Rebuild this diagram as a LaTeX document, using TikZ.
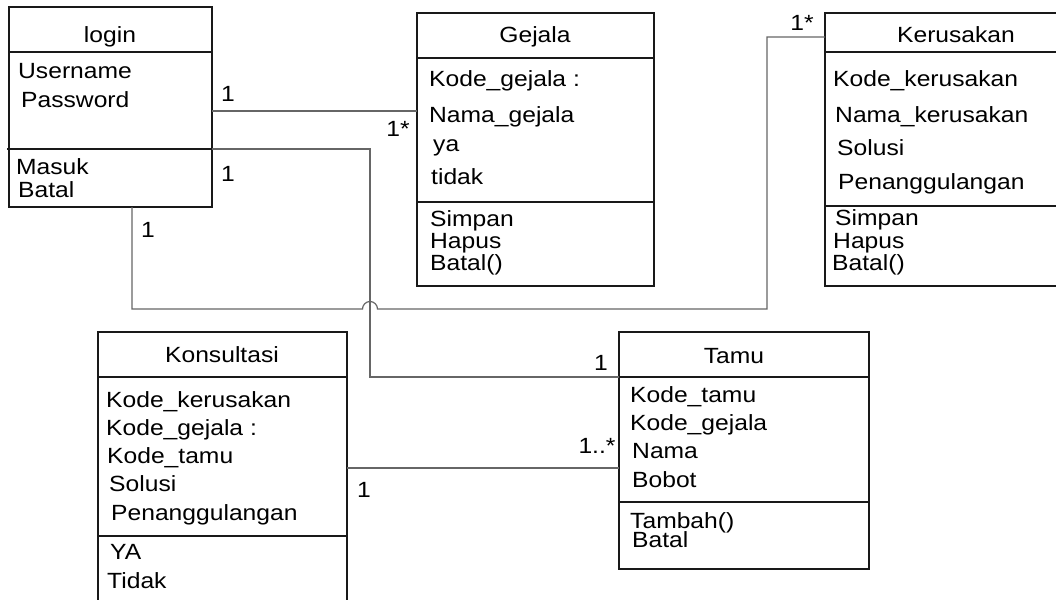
\documentclass[tikz,border=0pt]{standalone}
\usepackage{fontspec}
\setmainfont{Liberation Sans}[FakeStretch=1.12]

\begin{document}
\begin{tikzpicture}[x=1pt, y=-1pt,
    every node/.style={font=\fontsize{22}{24}\selectfont, inner sep=0pt},
    box/.style={line width=1.6pt, black!90},
    link/.style={line width=1.2pt, black!60},
    attr/.style={anchor=base west},
    title/.style={anchor=base},
    mult/.style={anchor=base}]
    \useasboundingbox (0,0) rectangle (1056,599);
    \clip (0,0) rectangle (1056,599); % boxes run off the page

    % login
    \draw[box] (9,7) rectangle (212,207);
    \draw[box] (9,52) -- (213,52);
    \draw[box] (7,149) -- (212,149);
    \node[title] (login) at (110,43) {login};
    \node[attr] (username) at (18,79) {Username};
    \node[attr] (password) at (21,107) {Password};
    \node[attr] (masuk) at (16,174) {Masuk};
    \node[attr] (batal) at (18,197) {Batal};

    % Gejala
    \draw[box] (417,13) rectangle (654,286);
    \draw[box] (417,58) -- (654,58);
    \draw[box] (417,202) -- (654,202);
    \node[title] (gejala) at (535,43) {Gejala};
    \node[attr] (kodegejala) at (429,87) {Kode\_gejala :};
    \node[attr] (namagejala) at (429,122) {Nama\_gejala};
    \node[attr] (ya) at (433,151) {ya};
    \node[attr] (tidak) at (431,184) {tidak};
    \node[attr] (simpan) at (430,226) {Simpan};
    \node[attr] (hapus) at (430,248) {Hapus};
    \node[attr] (batalg) at (430,270) {Batal()};

    % Kerusakan
    \draw[box] (825,13) rectangle (1070,286);
    \draw[box] (825,52) -- (1070,52);
    \draw[box] (825,206) -- (1070,206);
    \node[title] (kerusakan) at (956,43) {Kerusakan};
    \node[attr] (kodekerusakan) at (833,87) {Kode\_kerusakan};
    \node[attr] (namakerusakan) at (835,122) {Nama\_kerusakan};
    \node[attr] (solusik) at (837,155) {Solusi};
    \node[attr] (penanggulangank) at (838,189) {Penanggulangan};
    \node[attr] (simpank) at (835,225) {Simpan};
    \node[attr] (hapusk) at (833,248) {Hapus};
    \node[attr] (batalk) at (832,270) {Batal()};

    % Konsultasi
    \draw[box] (98,332) rectangle (347,620);
    \draw[box] (98,377) -- (347,377);
    \draw[box] (98,536) -- (347,536);
    \node[title] (konsultasi) at (222,362) {Konsultasi};
    \node[attr] (kodekerusakanc) at (106,407) {Kode\_kerusakan};
    \node[attr] (kodegejalac) at (106,435) {Kode\_gejala :};
    \node[attr] (kodetamuc) at (107,463) {Kode\_tamu};
    \node[attr] (solusic) at (109,491) {Solusi};
    \node[attr] (penanggulanganc) at (111,520) {Penanggulangan};
    \node[attr] (yac) at (110,559) {YA};
    \node[attr] (tidakc) at (107,588) {Tidak};

    % Tamu
    \draw[box] (619,332) rectangle (869,569);
    \draw[box] (619,377) -- (869,377);
    \draw[box] (619,502) -- (869,502);
    \node[title] (tamu) at (734,363) {Tamu};
    \node[attr] (kodetamu) at (630,402) {Kode\_tamu};
    \node[attr] (kodegejalat) at (630,430) {Kode\_gejala};
    \node[attr] (nama) at (632,458) {Nama};
    \node[attr] (bobot) at (632,487) {Bobot};
    \node[attr] (tambah) at (630,528) {Tambah()};
    \node[attr] (batalt) at (632,547) {Batal};

    % connector ends
    \coordinate (login-a) at (212,111);
    \coordinate (gejala-a) at (417,111);
    \coordinate (login-b) at (212,149);
    \coordinate (bend-b) at (370,377);
    \coordinate (tamu-a) at (619,377);
    \coordinate (login-c) at (132,207);
    \coordinate (hop) at (370,309);
    \coordinate (bend-c) at (767,37);
    \coordinate (kerusakan-a) at (825,37);
    \coordinate (konsultasi-a) at (347,468);
    \coordinate (tamu-b) at (619,468);

    \draw[link] (login-a) -- (gejala-a);
    \draw[link] (login-b) -| (bend-b) -- (tamu-a);
    \draw[link] (login-c) |- ([xshift=-7.5pt]hop)
        arc[start angle=180, end angle=360, radius=7.5] -| (bend-c) -- (kerusakan-a);
    \draw[link] (konsultasi-a) -- (tamu-b);

    % multiplicities
    \node[mult] (m-login-a) at (228,102) {1};
    \node[mult] (m-gejala-a) at (398,136) {1*};
    \node[mult] (m-login-b) at (228,181) {1};
    \node[mult] (m-login-c) at (148,237) {1};
    \node[mult] (m-kerusakan-a) at (802,31) {1*};
    \node[mult] (m-tamu-a) at (601,370) {1};
    \node[mult] (m-tamu-b) at (597,453) {1..*};
    \node[mult] (m-konsultasi-a) at (364,497) {1};
\end{tikzpicture}
\end{document}
